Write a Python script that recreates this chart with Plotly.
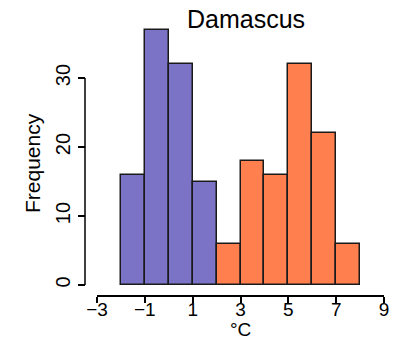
import plotly.graph_objects as go

# Histogram of daily temperatures, two seasons
bin_left_cold = [-2, -1, 0, 1]
counts_cold = [16, 37, 32, 15]
bin_left_warm = [2, 3, 4, 5, 6, 7]
counts_warm = [6, 18, 16, 32, 22, 6]
x_ticks = [-3, -1, 1, 3, 5, 7, 9]
y_ticks = [0, 10, 20, 30]

W, H = 396, 341
FONT = "Liberation Sans, Arial, sans-serif"

# pixel layout of the plotting frame
x_left_px, x_right_px = 97, 384      # positions of x = -3 and x = 9
y0_px, y30_px = 285, 78              # positions of y = 0 and y = 30
xaxis_px = 296
yaxis_px = 85

px_per_unit = (y0_px - y30_px) / 30.0
y_bottom = -(H - y0_px) / px_per_unit
y_top = y0_px / px_per_unit

fig = go.Figure()
for lefts, counts, color in [
    (bin_left_cold, counts_cold, "#7b73c6"),
    (bin_left_warm, counts_warm, "#ff7f4f"),
]:
    fig.add_trace(go.Bar(
        x=[l + 0.5 for l in lefts], y=counts, width=1,
        marker=dict(color=color, line=dict(color="#1a1a1a", width=1.5)),
        showlegend=False,
    ))

fig.update_layout(
    width=W, height=H,
    margin=dict(l=0, r=0, t=0, b=0, autoexpand=False),
    paper_bgcolor="white", plot_bgcolor="white",
    bargap=0,
    font=dict(family=FONT, color="black"),
    title=dict(text="Damascus", x=246 / W, xanchor="center",
               y=1 - 19 / H, yanchor="middle", automargin=False,
               font=dict(size=25, family=FONT, color="black")),
    xaxis=dict(
        domain=[x_left_px / W, x_right_px / W],
        range=[-3, 9], anchor="free", position=(H - xaxis_px) / H,
        automargin=False,
        tickvals=x_ticks, ticktext=[str(v).replace("-", "\u2212") for v in x_ticks],
        ticks="outside", ticklen=6, tickwidth=1.5, tickcolor="black",
        ticklabelstandoff=-10,
        showline=True, linecolor="black", linewidth=1.5,
        showgrid=False, zeroline=False,
        tickfont=dict(size=19, family=FONT),
    ),
    yaxis=dict(
        domain=[0, 1], range=[y_bottom, y_top],
        anchor="free", position=yaxis_px / W,
        automargin=False,
        tickvals=y_ticks, tickangle=-90,
        ticks="outside", ticklen=7, tickwidth=1.5, tickcolor="black",
        showline=False, showgrid=False, zeroline=False,
        tickfont=dict(size=20, family=FONT),
    ),
    shapes=[dict(type="line", xref="paper", yref="y",
                 x0=yaxis_px / W, x1=yaxis_px / W, y0=0, y1=30,
                 line=dict(color="black", width=1.5))],
    annotations=[
        dict(text="°C", xref="x", yref="paper", x=3, y=0,
             xanchor="center", yanchor="bottom", showarrow=False,
             borderpad=0, font=dict(size=19, family=FONT)),
        dict(text="Frequency", xref="paper", yref="paper", x=32 / W,
             y=1 - 163 / H, xanchor="center", yanchor="middle",
             textangle=-90, showarrow=False,
             font=dict(size=21, family=FONT)),
    ],
)

fig.write_html("out.html")
